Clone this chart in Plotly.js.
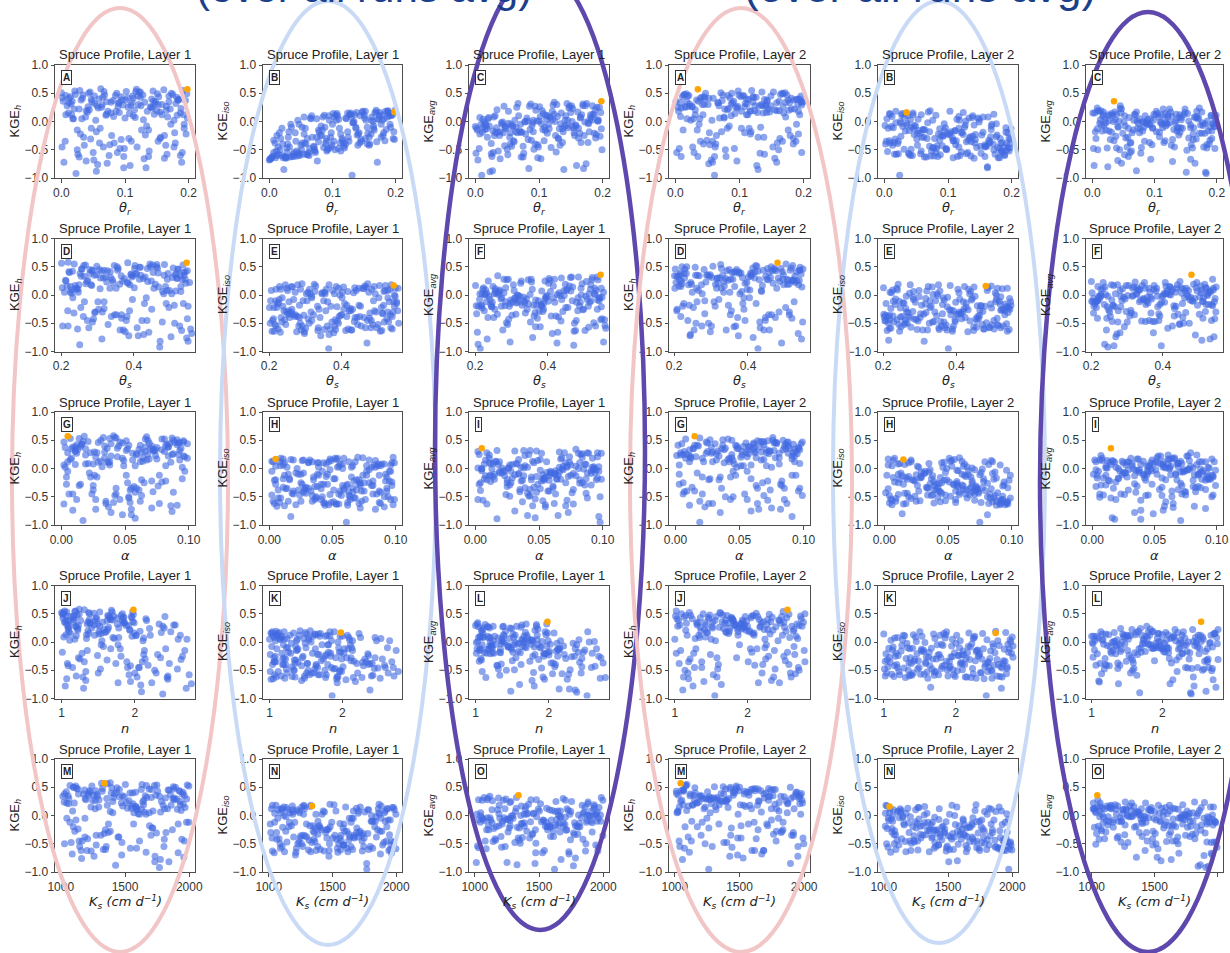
<!DOCTYPE html>
<html><head><meta charset="utf-8">
<script src="https://cdn.plot.ly/plotly-3.0.1.min.js"></script>
<style>html,body{margin:0;padding:0;background:#fff;}#chart{width:1230px;height:953px;}</style>
</head><body><div id="chart"></div>
<script>
// ---------- Layer 1 experiment ----------
const thr1 = [
0.002,0.011,0.006,0.000,0.009,0.004,0.012,0.001,0.007,0.010,
0.015,0.022,0.018,0.025,0.014,0.020,0.026,0.017,0.023,0.019,
0.029,0.036,0.031,0.039,0.027,0.034,0.038,0.030,0.033,0.028,
0.042,0.048,0.045,0.051,0.041,0.047,0.052,0.044,0.050,0.046,
0.055,0.062,0.058,0.065,0.054,0.060,0.064,0.057,0.061,0.056,
0.068,0.075,0.071,0.078,0.067,0.073,0.079,0.070,0.076,0.072,
0.082,0.089,0.085,0.092,0.081,0.087,0.091,0.084,0.090,0.086,
0.095,0.102,0.098,0.105,0.094,0.100,0.104,0.097,0.103,0.099,
0.108,0.115,0.111,0.118,0.107,0.113,0.119,0.110,0.116,0.112,
0.122,0.129,0.125,0.132,0.121,0.127,0.131,0.124,0.130,0.126,
0.135,0.142,0.138,0.145,0.134,0.140,0.144,0.137,0.143,0.139,
0.148,0.155,0.151,0.158,0.147,0.153,0.159,0.150,0.156,0.152,
0.162,0.169,0.165,0.172,0.161,0.167,0.171,0.164,0.170,0.166,
0.175,0.182,0.178,0.185,0.174,0.180,0.184,0.177,0.183,0.179,
0.188,0.195,0.191,0.199,0.187,0.193,0.197,0.190,0.196,0.192,
0.003,0.021,0.035,0.012,0.028,0.007,0.039,0.016,0.025,0.032,
0.043,0.066,0.052,0.078,0.059,0.047,0.071,0.055,0.063,0.075,
0.083,0.109,0.094,0.117,0.088,0.101,0.113,0.091,0.106,0.098,
0.124,0.146,0.133,0.158,0.128,0.141,0.152,0.137,0.155,0.121,
0.165,0.187,0.173,0.198,0.169,0.181,0.193,0.177,0.189,0.162];
const ths1 = [
0.231,0.487,0.352,0.298,0.541,0.412,0.263,0.379,0.455,0.214,
0.336,0.508,0.247,0.429,0.318,0.553,0.276,0.392,0.471,0.225,
0.444,0.289,0.517,0.361,0.208,0.402,0.498,0.254,0.335,0.531,
0.273,0.419,0.346,0.559,0.238,0.467,0.305,0.384,0.526,0.292,
0.511,0.219,0.438,0.327,0.482,0.261,0.374,0.545,0.301,0.415,
0.357,0.476,0.203,0.398,0.535,0.282,0.449,0.243,0.366,0.502,
0.228,0.341,0.521,0.286,0.407,0.462,0.216,0.553,0.323,0.389,
0.494,0.267,0.371,0.448,0.235,0.529,0.311,0.426,0.206,0.478,
0.312,0.543,0.255,0.383,0.468,0.221,0.436,0.347,0.515,0.279,
0.403,0.229,0.492,0.318,0.257,0.557,0.365,0.284,0.441,0.536,
0.249,0.453,0.329,0.513,0.396,0.212,0.484,0.362,0.271,0.425,
0.538,0.294,0.418,0.241,0.506,0.355,0.233,0.459,0.388,0.316,
0.376,0.522,0.268,0.434,0.201,0.491,0.343,0.547,0.296,0.409,
0.465,0.307,0.549,0.223,0.358,0.431,0.279,0.504,0.252,0.381,
0.325,0.392,0.236,0.473,0.529,0.264,0.415,0.219,0.496,0.351,
0.297,0.463,0.218,0.541,0.382,0.256,0.427,0.334,0.512,0.209,
0.445,0.272,0.394,0.226,0.537,0.318,0.483,0.251,0.369,0.556,
0.338,0.519,0.287,0.451,0.204,0.406,0.246,0.528,0.313,0.472,
0.262,0.401,0.549,0.308,0.437,0.213,0.366,0.489,0.284,0.518,
0.533,0.245,0.354,0.479,0.291,0.547,0.232,0.422,0.386,0.303];
const alpha1 = [
0.012,0.067,0.043,0.091,0.028,0.055,0.079,0.006,0.036,0.098,
0.073,0.021,0.058,0.004,0.085,0.039,0.062,0.094,0.017,0.049,
0.033,0.088,0.011,0.064,0.047,0.096,0.025,0.071,0.053,0.002,
0.059,0.008,0.081,0.037,0.069,0.015,0.092,0.044,0.027,0.076,
0.095,0.041,0.019,0.083,0.003,0.061,0.034,0.087,0.051,0.023,
0.046,0.077,0.064,0.013,0.038,0.099,0.052,0.029,0.072,0.009,
0.021,0.056,0.089,0.042,0.075,0.031,0.007,0.065,0.093,0.048,
0.084,0.014,0.035,0.068,0.057,0.002,0.091,0.026,0.045,0.063,
0.039,0.097,0.074,0.018,0.049,0.082,0.024,0.055,0.011,0.069,
0.066,0.032,0.005,0.079,0.093,0.047,0.061,0.016,0.086,0.028,
0.008,0.071,0.053,0.036,0.022,0.088,0.043,0.077,0.059,0.097,
0.052,0.025,0.096,0.062,0.011,0.039,0.073,0.034,0.004,0.081,
0.091,0.048,0.027,0.005,0.067,0.019,0.084,0.058,0.041,0.035,
0.017,0.086,0.063,0.045,0.031,0.072,0.009,0.095,0.066,0.054,
0.074,0.003,0.042,0.098,0.056,0.026,0.051,0.012,0.082,0.038,
0.044,0.087,0.015,0.062,0.096,0.029,0.071,0.005,0.053,0.082,
0.068,0.009,0.051,0.093,0.034,0.077,0.019,0.058,0.087,0.041,
0.025,0.063,0.099,0.007,0.046,0.084,0.037,0.072,0.014,0.055,
0.079,0.031,0.048,0.066,0.002,0.092,0.059,0.023,0.075,0.011,
0.012,0.054,0.088,0.038,0.070,0.016,0.097,0.043,0.027,0.065];
const n1 = [
1.02,1.12,1.31,1.44,1.52,1.77,1.84,2.05,2.21,2.52,
1.07,1.21,1.18,1.35,1.66,1.63,1.92,1.97,2.38,2.71,
1.04,1.09,1.26,1.51,1.48,1.81,1.78,2.12,2.15,2.44,
1.09,1.16,1.37,1.33,1.59,1.69,1.95,1.93,2.29,2.63,
1.01,1.24,1.22,1.47,1.55,1.74,1.88,2.08,2.42,2.38,
1.06,1.14,1.34,1.39,1.69,1.61,1.81,2.01,2.18,2.77,
1.03,1.19,1.16,1.53,1.46,1.83,1.99,2.14,2.33,2.49,
1.08,1.07,1.29,1.41,1.62,1.72,1.76,1.91,2.25,2.58,
1.05,1.22,1.39,1.31,1.51,1.66,1.90,2.10,2.12,2.41,
1.00,1.11,1.20,1.49,1.64,1.79,1.86,1.96,2.45,2.68,
1.10,1.17,1.33,1.36,1.57,1.64,1.97,2.03,2.20,2.36,
1.04,1.25,1.24,1.45,1.49,1.85,1.80,2.07,2.35,2.55,
1.07,1.13,1.36,1.54,1.68,1.70,1.93,1.94,2.28,2.74,
1.02,1.20,1.28,1.38,1.60,1.76,1.83,2.11,2.16,2.47,
1.09,1.10,1.19,1.42,1.54,1.67,1.98,2.00,2.31,2.62,
1.05,1.18,1.23,1.48,1.58,1.71,1.94,2.02,2.27,2.59,
1.01,1.15,1.35,1.37,1.67,1.80,1.85,2.09,2.40,2.45,
1.08,1.23,1.17,1.52,1.50,1.62,1.96,1.99,2.14,2.70,
1.03,1.06,1.30,1.44,1.63,1.78,1.89,2.13,2.36,2.53,
1.10,1.20,1.38,1.34,1.56,1.84,1.77,2.06,2.23,2.65];
const ks1 = [
1043,1587,1312,1876,1195,1734,1458,1962,1268,1621,
1815,1124,1689,1371,1923,1046,1542,1257,1768,1405,
1503,1942,1178,1645,1329,1881,1092,1716,1434,1237,
1269,1658,1997,1089,1482,1217,1836,1563,1354,1745,
1691,1385,1026,1754,1613,1446,1903,1162,1997,1298,
1134,1862,1549,1285,1072,1797,1347,1628,1209,1958,
1937,1247,1705,1476,1853,1103,1584,1012,1669,1362,
1418,1729,1158,1929,1338,1651,1228,1873,1527,1081,
1776,1061,1494,1317,1968,1582,1143,1702,1385,1844,
1242,1603,1887,1135,1456,1021,1769,1322,1914,1567,
1859,1393,1276,1740,1118,1531,1985,1204,1638,1469,
1057,1819,1437,1596,1882,1273,1672,1931,1109,1358,
1664,1185,1953,1047,1363,1718,1472,1806,1251,1590,
1325,1907,1097,1559,1784,1411,1029,1663,1947,1188,
1512,1281,1632,1865,1235,1979,1397,1147,1711,1808,
1213,1748,1386,1952,1105,1627,1474,1831,1029,1569,
1893,1166,1705,1296,1538,1071,1962,1427,1784,1348,
1452,1980,1224,1667,1803,1138,1591,1016,1370,1732,
1117,1519,1842,1063,1688,1405,1275,1914,1556,1190,
1646,1331,1097,1777,1480,1926,1188,1613,1259,1869];
const kgeH1 = [
0.42,0.15,-0.35,0.51,0.28,-0.72,0.33,-0.45,0.12,-1.25,
0.31,0.48,0.05,-0.15,0.44,0.22,-0.58,0.36,-0.92,0.05,
0.55,-0.42,0.38,0.19,-1.10,0.47,0.08,-0.22,0.41,-0.63,
0.26,0.35,0.52,-0.68,0.17,0.39,0.45,0.21,-0.55,-0.31,
-0.18,0.58,0.24,0.43,0.02,-0.38,0.29,-0.76,-0.12,0.28,
0.47,-1.30,0.13,0.34,0.53,0.18,-0.25,0.11,-0.41,-0.74,
0.09,0.27,0.46,-0.48,0.37,0.50,0.16,-1.50,0.32,0.18,
0.38,0.53,-0.62,0.25,-0.32,0.06,0.42,0.29,-1.40,-0.48,
-0.78,0.21,0.33,0.57,0.14,0.41,-0.45,-0.35,0.07,0.45,
0.52,0.03,0.28,-0.24,0.46,-1.20,0.34,0.43,-0.66,-0.15,
0.18,0.40,-0.52,0.36,-0.08,0.26,0.54,-0.62,0.24,-1.45,
0.35,-0.30,0.49,0.12,0.31,0.44,-1.15,0.19,-0.28,0.30,
-0.65,0.45,0.20,-0.05,0.56,0.08,0.22,-0.42,-1.30,-0.58,
0.48,0.11,-0.20,0.40,-1.60,0.32,0.38,0.02,0.38,-0.38,
0.23,0.37,0.55,-1.20,0.15,-0.12,0.49,-0.55,-0.22,0.12,
0.36,0.54,-0.28,0.41,0.22,0.46,-0.70,0.12,-0.50,0.05,
0.50,-0.45,0.32,0.15,0.40,-0.12,0.35,-0.88,0.25,-0.60,
-0.38,0.29,0.44,0.53,-0.55,0.38,0.10,0.34,-0.30,-0.82,
0.52,0.13,-0.82,0.30,0.47,0.25,-0.35,-0.15,0.17,0.30,
0.27,-0.60,0.50,0.06,0.35,0.43,-0.05,-0.45,-0.72,-0.25];
const kgeIso1 = [
-0.66,-0.52,-0.61,-0.68,-0.38,-0.63,-0.25,-0.67,-0.55,-0.64,
-0.58,-0.64,-0.30,-0.62,-0.45,-0.12,-0.65,-0.50,-0.85,-0.60,
-0.40,-0.62,-0.18,-0.55,-0.64,-0.05,-0.58,-0.28,-0.63,-0.47,
-0.35,-0.60,0.02,-0.50,-0.20,-0.58,-0.10,-0.61,-0.42,-0.55,
-0.22,-0.55,-0.40,0.06,-0.58,-0.30,-0.48,-0.12,-0.59,-0.38,
-0.28,0.05,-0.50,-0.36,0.10,-0.55,-0.18,-0.44,-0.70,-0.52,
-0.08,-0.40,0.08,-0.50,-0.25,0.11,-0.52,-0.15,-0.35,-0.46,
0.02,-0.35,-0.20,0.12,-0.48,-0.05,-0.50,-0.28,0.08,-0.41,
0.10,-0.30,-0.12,-0.44,0.14,-0.22,-0.47,0.04,-0.33,-0.38,
0.05,0.15,-0.28,-0.02,-0.40,0.12,-0.95,-0.18,0.08,-0.35,
0.12,-0.20,0.16,-0.32,0.00,-0.42,0.10,-0.12,-0.38,-0.24,
0.18,-0.10,0.06,-0.28,0.17,0.02,-0.40,0.12,-0.21,-0.30,
0.08,0.17,-0.08,0.04,-0.22,0.15,-0.72,0.00,-0.36,-0.15,
0.16,0.05,0.12,-0.14,0.10,-0.25,0.18,-0.05,-0.34,0.02,
0.19,0.12,-0.05,0.20,0.08,0.14,-0.18,0.10,-0.30,-0.10,
-0.65,-0.40,-0.10,-0.60,-0.55,-0.33,-0.62,-0.20,-0.63,-0.45,
-0.52,0.05,-0.38,-0.15,-0.58,-0.05,-0.45,0.08,-0.60,-0.28,
-0.25,-0.48,0.10,-0.38,-0.10,0.14,-0.52,-0.30,0.02,-0.45,
0.15,-0.35,-0.02,-0.42,0.13,-0.22,0.18,-0.10,-0.40,0.06,
-0.12,0.18,0.05,-0.32,0.20,-0.20,0.10,-0.28,0.15,0.02];
const kgeAvg1 = [
-0.12,-0.19,-0.48,-0.09,-0.05,-0.68,0.04,-0.56,-0.22,-0.95,
-0.14,-0.08,-0.13,-0.39,-0.01,0.05,-0.62,-0.07,-0.89,-0.28,
0.08,-0.52,0.10,-0.18,-0.87,0.21,-0.25,-0.25,-0.11,-0.55,
-0.05,-0.13,0.27,-0.59,-0.02,-0.10,0.18,-0.20,-0.49,-0.43,
-0.20,0.02,-0.08,0.25,-0.28,-0.34,-0.10,-0.44,-0.36,-0.05,
0.10,-0.63,-0.19,-0.01,0.32,-0.19,-0.22,-0.17,-0.56,-0.63,
0.01,-0.07,0.27,-0.49,0.06,0.31,-0.18,-0.83,-0.02,-0.14,
0.20,0.09,-0.41,0.19,-0.40,0.01,-0.04,0.01,-0.66,-0.45,
-0.34,-0.05,0.11,0.07,0.14,0.10,-0.46,-0.16,-0.13,0.04,
0.29,0.09,0.00,-0.13,0.03,-0.54,-0.31,0.13,-0.29,-0.25,
0.15,0.10,-0.18,0.02,-0.04,-0.08,0.32,-0.37,-0.07,-0.85,
0.27,-0.20,0.28,-0.08,0.24,0.23,-0.78,0.16,-0.25,0.00,
-0.29,0.31,0.06,-0.01,0.17,0.12,-0.25,-0.21,-0.83,-0.37,
0.32,0.08,-0.04,0.13,-0.75,0.04,0.28,-0.02,0.02,-0.18,
0.21,0.25,0.25,-0.50,0.12,0.01,0.16,-0.23,-0.26,0.01,
-0.15,0.07,-0.19,-0.10,-0.17,0.07,-0.66,-0.04,-0.57,-0.20,
-0.01,-0.20,-0.03,0.00,-0.09,-0.09,-0.05,-0.40,-0.18,-0.44,
-0.32,-0.10,0.27,0.08,-0.33,0.26,-0.21,0.02,-0.14,-0.64,
0.34,-0.11,-0.42,-0.06,0.30,0.02,-0.09,-0.13,-0.12,0.18,
0.08,-0.21,0.28,-0.13,0.28,0.12,0.03,-0.37,-0.29,-0.12];
// best run, layer 1: [theta_r, theta_s, alpha, n, Ks] and [KGE_h, KGE_iso, KGE_avg]
const bestParams1 = [0.198, 0.545, 0.005, 1.98, 1340];
const bestKge1 = [0.57, 0.17, 0.36];

// ---------- Layer 2 experiment ----------
const thr2 = [
0.143,0.027,0.186,0.071,0.112,0.004,0.158,0.093,0.049,0.197,
0.061,0.174,0.018,0.129,0.085,0.192,0.036,0.151,0.107,0.012,
0.119,0.043,0.165,0.008,0.097,0.139,0.054,0.181,0.076,0.132,
0.031,0.188,0.102,0.057,0.169,0.021,0.124,0.079,0.196,0.046,
0.176,0.066,0.139,0.014,0.091,0.155,0.038,0.114,0.003,0.162,
0.082,0.127,0.051,0.184,0.009,0.103,0.171,0.064,0.136,0.025,
0.194,0.015,0.088,0.147,0.059,0.178,0.029,0.121,0.072,0.109,
0.041,0.153,0.117,0.033,0.189,0.068,0.142,0.006,0.098,0.167,
0.131,0.081,0.199,0.052,0.124,0.019,0.163,0.087,0.035,0.145,
0.011,0.172,0.062,0.108,0.045,0.137,0.191,0.024,0.158,0.094,
0.159,0.039,0.128,0.182,0.074,0.001,0.115,0.056,0.185,0.069,
0.089,0.197,0.022,0.149,0.113,0.058,0.077,0.168,0.044,0.121,
0.028,0.134,0.096,0.005,0.176,0.083,0.047,0.141,0.111,0.192,
0.166,0.053,0.181,0.092,0.016,0.126,0.198,0.037,0.071,0.105,
0.078,0.117,0.008,0.162,0.138,0.042,0.099,0.183,0.026,0.152,
0.052,0.184,0.117,0.009,0.141,0.073,0.196,0.034,0.158,0.087,
0.129,0.018,0.164,0.097,0.045,0.177,0.063,0.111,0.002,0.149,
0.191,0.076,0.039,0.135,0.103,0.022,0.168,0.058,0.122,0.084,
0.013,0.155,0.094,0.189,0.067,0.118,0.031,0.143,0.179,0.047,
0.108,0.041,0.172,0.061,0.194,0.026,0.133,0.081,0.017,0.161];
const ths2 = [
0.412,0.237,0.528,0.305,0.461,0.219,0.374,0.546,0.283,0.339,
0.254,0.489,0.351,0.207,0.427,0.537,0.298,0.396,0.472,0.226,
0.503,0.328,0.269,0.448,0.214,0.381,0.519,0.245,0.436,0.362,
0.319,0.456,0.541,0.276,0.364,0.203,0.495,0.341,0.258,0.419,
0.386,0.211,0.433,0.517,0.291,0.468,0.249,0.407,0.532,0.312,
0.229,0.545,0.317,0.372,0.486,0.262,0.424,0.208,0.353,0.509,
0.478,0.346,0.221,0.439,0.531,0.295,0.367,0.514,0.241,0.401,
0.272,0.421,0.502,0.233,0.389,0.451,0.213,0.548,0.326,0.464,
0.359,0.525,0.288,0.414,0.247,0.369,0.484,0.302,0.443,0.205,
0.441,0.266,0.392,0.539,0.323,0.218,0.457,0.378,0.511,0.281,
0.218,0.493,0.336,0.264,0.471,0.409,0.308,0.536,0.227,0.383,
0.527,0.301,0.455,0.349,0.202,0.512,0.397,0.257,0.474,0.331,
0.334,0.418,0.244,0.497,0.376,0.286,0.543,0.431,0.315,0.252,
0.463,0.223,0.366,0.432,0.521,0.343,0.268,0.404,0.238,0.549,
0.293,0.507,0.405,0.215,0.355,0.482,0.328,0.247,0.521,0.447,
0.375,0.512,0.239,0.458,0.316,0.544,0.281,0.422,0.207,0.398,
0.491,0.263,0.413,0.335,0.539,0.221,0.447,0.362,0.275,0.506,
0.228,0.437,0.352,0.521,0.274,0.385,0.509,0.243,0.466,0.321,
0.453,0.298,0.533,0.217,0.408,0.347,0.261,0.496,0.389,0.234,
0.311,0.476,0.201,0.427,0.357,0.523,0.283,0.392,0.541,0.259];
const alpha2 = [
0.058,0.021,0.093,0.037,0.074,0.006,0.082,0.045,0.013,0.067,
0.029,0.088,0.051,0.003,0.069,0.042,0.096,0.018,0.061,0.035,
0.076,0.011,0.039,0.084,0.024,0.057,0.007,0.091,0.046,0.072,
0.016,0.064,0.098,0.048,0.032,0.079,0.055,0.026,0.086,0.002,
0.043,0.097,0.019,0.066,0.089,0.012,0.071,0.053,0.034,0.081,
0.087,0.035,0.062,0.009,0.052,0.094,0.027,0.068,0.004,0.049,
0.022,0.073,0.044,0.091,0.015,0.038,0.085,0.005,0.059,0.077,
0.065,0.008,0.083,0.028,0.056,0.071,0.041,0.099,0.019,0.036,
0.092,0.047,0.014,0.059,0.078,0.025,0.063,0.033,0.087,0.011,
0.031,0.081,0.054,0.095,0.007,0.067,0.018,0.075,0.044,0.058,
0.074,0.017,0.069,0.039,0.099,0.048,0.091,0.023,0.062,0.003,
0.011,0.056,0.028,0.077,0.042,0.085,0.034,0.064,0.096,0.049,
0.053,0.094,0.075,0.021,0.066,0.001,0.057,0.088,0.029,0.072,
0.084,0.026,0.037,0.069,0.009,0.061,0.093,0.045,0.016,0.078,
0.039,0.063,0.097,0.014,0.082,0.052,0.024,0.071,0.057,0.006,
0.047,0.083,0.012,0.064,0.029,0.096,0.055,0.021,0.071,0.038,
0.091,0.036,0.068,0.004,0.079,0.051,0.015,0.088,0.043,0.062,
0.025,0.059,0.097,0.041,0.008,0.073,0.032,0.065,0.086,0.017,
0.069,0.011,0.044,0.085,0.057,0.027,0.093,0.039,0.006,0.076,
0.034,0.092,0.061,0.019,0.048,0.081,0.003,0.056,0.072,0.045];
const n2 = [
1.05,1.27,1.41,1.63,1.84,1.95,2.15,2.31,2.52,2.71,
1.12,1.22,1.50,1.58,1.77,2.02,2.22,2.40,2.47,2.78,
1.02,1.33,1.38,1.69,1.88,1.93,2.10,2.28,2.58,2.66,
1.15,1.19,1.46,1.56,1.74,2.06,2.18,2.36,2.50,2.74,
1.08,1.30,1.53,1.66,1.81,1.98,2.24,2.43,2.45,2.63,
1.01,1.25,1.43,1.60,1.86,2.04,2.12,2.29,2.61,2.76,
1.17,1.35,1.39,1.71,1.79,1.91,2.20,2.34,2.55,2.68,
1.10,1.20,1.49,1.55,1.89,2.00,2.09,2.38,2.49,2.79,
1.04,1.29,1.52,1.64,1.75,1.97,2.25,2.27,2.60,2.64,
1.13,1.34,1.37,1.61,1.83,2.07,2.16,2.42,2.53,2.72,
1.06,1.24,1.45,1.68,1.72,1.94,2.13,2.33,2.44,2.69,
1.16,1.18,1.51,1.57,1.87,2.01,2.23,2.30,2.57,2.77,
1.00,1.31,1.40,1.70,1.80,1.92,2.11,2.39,2.48,2.65,
1.09,1.26,1.47,1.59,1.76,2.05,2.19,2.26,2.62,2.73,
1.14,1.36,1.42,1.65,1.85,1.96,2.08,2.41,2.51,2.70,
1.03,1.21,1.44,1.58,1.82,1.99,2.14,2.37,2.46,2.67,
1.11,1.32,1.48,1.67,1.78,2.03,2.21,2.28,2.59,2.75,
1.07,1.28,1.37,1.62,1.87,1.91,2.17,2.44,2.54,2.64,
1.15,1.19,1.52,1.70,1.73,2.06,2.09,2.32,2.50,2.79,
1.02,1.35,1.41,1.55,1.80,1.95,2.24,2.35,2.57,2.71];
const ks2 = [
1537,1128,1874,1306,1692,1045,1951,1412,1763,1239,
1685,1392,1017,1828,1253,1579,1146,1927,1468,1711,
1094,1746,1521,1267,1983,1358,1629,1172,1805,1442,
1872,1203,1664,1489,1035,1777,1318,1596,1117,1945,
1341,1918,1075,1725,1452,1284,1869,1013,1633,1506,
1761,1059,1418,1991,1187,1613,1374,1836,1266,1552,
1226,1647,1893,1106,1574,1962,1039,1495,1718,1327,
1958,1475,1263,1689,1801,1151,1548,1379,1082,1903,
1405,1837,1193,1528,1064,1742,1916,1285,1617,1167,
1619,1022,1783,1354,1898,1236,1461,1973,1139,1694,
1103,1557,1315,1847,1427,1969,1211,1672,1378,1025,
1846,1289,1724,1068,1593,1432,1987,1155,1512,1759,
1273,1961,1485,1639,1121,1806,1356,1054,1922,1437,
1501,1174,1936,1402,1651,1069,1735,1248,1865,1589,
1997,1343,1092,1573,1785,1214,1644,1908,1396,1033,
1452,1821,1136,1688,1274,1937,1063,1569,1725,1318,
1894,1207,1621,1398,1049,1773,1486,1159,1952,1336,
1245,1669,1917,1085,1531,1302,1858,1425,1012,1747,
1603,1113,1368,1979,1197,1512,1786,1027,1643,1429,
1079,1542,1819,1262,1705,1388,1131,1966,1474,1234];
const kgeH2 = [
0.38,-0.45,0.22,0.51,0.31,0.25,-0.72,0.14,-0.33,0.29,
-0.62,0.47,0.05,-0.28,0.42,0.18,0.36,-1.35,0.45,-0.15,
0.55,0.12,-1.10,0.33,0.27,0.39,-0.41,0.22,0.08,-0.56,
0.21,-0.35,0.44,0.02,0.15,0.46,0.28,-0.62,0.35,0.41,
-0.15,0.33,-0.58,0.48,0.36,0.21,0.05,0.39,-1.20,0.19,
0.46,-0.78,0.30,-0.40,0.24,-0.12,0.51,-0.25,0.28,-1.60,
0.12,0.26,0.50,0.17,0.41,0.33,-0.55,0.44,-0.18,0.32,
-1.40,0.52,-0.22,0.38,-0.05,0.28,0.16,-0.48,0.54,-0.35,
0.28,-0.12,0.35,-0.75,0.19,0.45,-0.30,0.31,-0.62,0.22,
0.44,0.08,-0.45,0.26,0.30,0.15,0.40,0.02,0.19,-1.30,
-0.38,0.41,0.16,-1.50,0.47,0.36,-0.12,-0.68,0.38,0.06,
0.33,-0.55,0.27,0.45,0.12,-0.35,0.22,0.49,-0.40,0.35,
0.05,0.30,-0.70,0.18,0.38,0.23,-1.25,0.27,0.12,-0.22,
0.50,-0.20,0.41,-0.48,0.25,0.43,0.34,-0.05,-1.30,0.46,
-0.50,0.19,0.09,0.36,-0.28,0.30,0.47,-1.45,0.26,-0.45,
0.41,-0.30,0.18,-0.62,0.29,0.37,0.45,-0.15,0.33,0.10,
-0.85,0.35,0.48,0.24,0.44,0.20,-0.40,0.40,-0.55,0.28,
0.30,0.06,-0.35,0.52,0.18,0.31,0.26,-0.72,0.43,-0.08,
0.47,-0.65,0.25,0.39,0.33,-0.18,0.12,0.36,-0.25,0.50,
-0.20,0.43,0.34,-0.95,0.40,0.27,-0.10,0.21,0.49,-0.50];
const kgeIso2 = [
-0.32,0.12,-0.55,-0.18,-0.41,0.05,-0.62,-0.25,-0.08,-0.47,
-0.14,-0.58,0.18,-0.36,-0.22,-0.51,-0.03,-0.44,-0.29,0.09,
-0.60,-0.10,-0.38,0.14,-0.49,-0.26,-0.16,-0.64,0.02,-0.33,
0.07,-0.45,-0.21,-0.57,-0.05,-0.39,0.16,-0.30,-0.52,-0.12,
-0.27,-0.63,0.10,-0.11,-0.43,-0.19,-0.56,0.04,-0.35,-0.82,
-0.48,-0.06,-0.31,-0.53,0.13,-0.24,-0.40,-0.15,-0.61,0.00,
-0.20,-0.37,-0.59,0.06,-0.28,-0.46,-0.09,-0.54,0.19,-0.34,
0.03,-0.24,-0.45,-0.17,-0.60,-0.02,-0.38,-0.12,-0.50,-0.27,
-0.55,0.11,-0.13,-0.42,-0.23,-0.58,0.08,-0.33,-0.06,-0.46,
-0.09,-0.50,-0.28,-0.64,0.15,-0.36,-0.19,-0.95,-0.41,-0.04,
-0.44,-0.16,0.01,-0.30,-0.52,-0.07,-0.62,-0.21,-0.37,0.17,
-0.25,-0.40,-0.57,-0.01,-0.34,0.12,-0.47,-0.14,-0.60,-0.20,
0.14,-0.29,-0.11,-0.53,-0.04,-0.43,-0.23,-0.65,-0.16,-0.38,
-0.36,0.04,-0.48,-0.26,-0.58,-0.10,-0.31,0.10,-0.44,-0.18,
-0.61,-0.12,-0.34,-0.80,0.07,-0.49,-0.22,-0.39,-0.03,-0.56,
-0.21,-0.52,0.09,-0.38,-0.06,-0.61,-0.29,0.15,-0.45,-0.13,
-0.57,-0.02,-0.33,-0.48,0.12,-0.24,-0.63,-0.17,-0.40,0.04,
-0.11,-0.46,-0.58,-0.27,0.18,-0.35,-0.08,-0.52,-0.19,-0.62,
-0.42,0.08,-0.16,-0.59,-0.30,0.02,-0.49,-0.23,-0.64,-0.07,
-0.34,-0.60,0.13,-0.14,-0.47,-0.26,0.06,-0.55,-0.31,-0.44];
const kgeAvg2 = [
0.03,-0.17,-0.17,0.17,-0.05,0.15,-0.67,-0.06,-0.21,-0.09,
-0.38,-0.06,0.12,-0.32,0.10,-0.17,0.17,-0.90,0.08,-0.03,
-0.03,0.01,-0.74,0.24,-0.11,0.07,-0.29,-0.21,0.05,-0.45,
0.14,-0.40,0.12,-0.28,0.05,0.04,0.22,-0.46,-0.09,0.15,
-0.21,-0.15,-0.24,0.19,-0.04,0.01,-0.26,0.22,-0.78,-0.32,
-0.01,-0.42,-0.01,-0.47,0.19,-0.18,0.06,-0.20,-0.17,-0.80,
-0.04,-0.06,-0.05,0.12,0.07,-0.07,-0.32,-0.05,0.01,-0.01,
-0.69,0.14,-0.34,0.11,-0.33,0.13,-0.11,-0.30,0.02,-0.31,
-0.14,-0.01,0.11,-0.59,-0.02,-0.07,-0.11,-0.01,-0.34,-0.12,
0.18,-0.21,-0.37,-0.19,0.23,-0.11,0.11,-0.47,-0.11,-0.67,
-0.41,0.13,0.09,-0.90,-0.03,0.15,-0.37,-0.45,0.01,0.12,
0.04,-0.48,-0.15,0.22,-0.11,-0.12,-0.13,0.18,-0.50,0.08,
0.10,0.01,-0.41,-0.18,0.17,-0.10,-0.74,-0.19,-0.02,-0.30,
0.07,-0.08,-0.04,-0.37,-0.17,0.17,0.02,0.03,-0.87,0.14,
-0.56,0.04,-0.13,-0.22,-0.11,-0.10,0.13,-0.92,0.12,-0.51,
0.10,-0.41,0.14,-0.50,0.12,-0.12,0.08,0.00,-0.06,-0.02,
-0.71,0.17,0.08,-0.12,0.28,-0.02,-0.52,0.12,-0.48,0.16,
0.10,-0.20,-0.47,0.13,0.18,-0.02,0.09,-0.62,0.12,-0.35,
0.03,-0.29,0.05,-0.10,0.02,-0.08,-0.19,0.07,-0.45,0.22,
-0.27,-0.09,0.24,-0.55,-0.04,0.01,-0.02,-0.17,0.09,-0.47];
const bestParams2 = [0.035, 0.48, 0.015, 2.55, 1045];
const bestKge2 = [0.57, 0.16, 0.36];

// ---------- labels ----------
const panelLetters = ['A','B','C','D','E','F','G','H','I','J','K','L','M','N','O'];
const layerNames = ['Spruce Profile, Layer 1', 'Spruce Profile, Layer 2'];
const xTitles = ['<i>θ<sub>r</sub></i>', '<i>θ<sub>s</sub></i>', '<i>α</i>', '<i>n</i>', '<i>K<sub>s</sub> (cm d<sup>−1</sup>)</i>'];
const yTitles = ['KGE<sub><i>h</i></sub>', 'KGE<sub><i>iso</i></sub>', 'KGE<sub><i>avg</i></sub>'];
const xTickVals = [[0, 0.1, 0.2], [0.2, 0.4], [0, 0.05, 0.1], [1, 2], [1000, 1500, 2000]];
const xTickText = [['0.0','0.1','0.2'], ['0.2','0.4'], ['0.00','0.05','0.10'], ['1','2'], ['1000','1500','2000']];
const yTickVals = [-1, -0.5, 0, 0.5, 1];
const yTickText = ['−1.0','−0.5','0.0','0.5','1.0'];
const topTexts = ['(over all runs avg)', '(over all runs avg)'];

// ---------- layout geometry (pixels) ----------
const W = 1230, H = 953;
const colLeft = [55, 263, 469, 669, 878, 1086];
const colRight = [195, 402, 609, 810, 1018, 1223];
const rowTop = [65, 238.5, 412, 585.5, 759];
const panelH = 113;
const xRanges = [
  [[-0.01, 0.21], [0.183, 0.568], [-0.005, 0.105], [0.91, 2.82], [955, 2045]],
  [[-0.01, 0.21], [0.186, 0.568], [-0.005, 0.105], [0.92, 2.86], [955, 2045]]
];
const px = x => x / W, py = y => 1 - y / H;

const params = [[thr1, ths1, alpha1, n1, ks1], [thr2, ths2, alpha2, n2, ks2]];
const kges = [[kgeH1, kgeIso1, kgeAvg1], [kgeH2, kgeIso2, kgeAvg2]];
const bestP = [bestParams1, bestParams2];
const bestK = [bestKge1, bestKge2];

const FONT = 'Liberation Sans, Arial, sans-serif';
const MATHFONT = 'DejaVu Sans, sans-serif';
const traces = [];
const annotations = [];
const layout = {
  width: W, height: H, margin: {l: 0, r: 0, t: 0, b: 0},
  paper_bgcolor: '#ffffff', plot_bgcolor: '#ffffff', showlegend: false,
  hovermode: false, font: {family: FONT, color: '#262626'}
};

let k = 0;
for (let L = 0; L < 2; L++) {
  for (let m = 0; m < 3; m++) {
    const col = L * 3 + m;
    for (let r = 0; r < 5; r++) {
      k++;
      const sfx = k === 1 ? '' : String(k);
      const xa = 'x' + sfx, ya = 'y' + sfx;
      traces.push({type: 'scatter', mode: 'markers', x: params[L][r], y: kges[L][m],
        xaxis: xa, yaxis: ya, hoverinfo: 'skip',
        marker: {color: 'rgba(65,105,225,0.6)', size: 7, line: {width: 0}}});
      traces.push({type: 'scatter', mode: 'markers', x: [bestP[L][r]], y: [bestK[L][m]],
        xaxis: xa, yaxis: ya, hoverinfo: 'skip',
        marker: {color: '#FFA500', size: 6.5, line: {width: 0}}});
      const top = rowTop[r], bot = rowTop[r] + panelH;
      const left = colLeft[col], right = colRight[col];
      const common = {showgrid: false, zeroline: false, showline: true, mirror: true,
        linecolor: '#4d4d4d', linewidth: 1, ticks: 'outside', ticklen: 3.5, tickwidth: 1,
        tickcolor: '#4d4d4d', tickfont: {family: FONT, size: 12, color: '#333333'}, fixedrange: true};
      layout['xaxis' + sfx] = Object.assign({}, common, {
        domain: [px(left), px(right)], anchor: ya, range: xRanges[L][r],
        tickmode: 'array', tickvals: xTickVals[r], ticktext: xTickText[r]});
      layout['yaxis' + sfx] = Object.assign({}, common, {
        domain: [py(bot), py(top)], anchor: xa, range: [-1, 1],
        tickmode: 'array', tickvals: yTickVals, ticktext: yTickText});
      const cx = (left + right) / 2;
      annotations.push({xref: 'paper', yref: 'paper', x: px(cx), y: py(top - 10),
        xanchor: 'center', yanchor: 'middle', showarrow: false, text: layerNames[L],
        font: {family: FONT, size: 13, color: '#222222'}});
      annotations.push({xref: 'paper', yref: 'paper', x: px(left + 6), y: py(top + 5),
        xanchor: 'left', yanchor: 'top', showarrow: false, text: '<b>' + panelLetters[r * 3 + m] + '</b>',
        font: {family: FONT, size: 10, color: '#222222'}, bordercolor: '#333333', borderwidth: 1,
        borderpad: 1, bgcolor: '#ffffff'});
      annotations.push({xref: 'paper', yref: 'paper', x: px(cx), y: py(bot + 30),
        xanchor: 'center', yanchor: 'middle', showarrow: false, text: xTitles[r],
        font: {family: MATHFONT, size: 13, color: '#222222'}});
      annotations.push({xref: 'paper', yref: 'paper', x: px(left - 40), y: py((top + bot) / 2),
        xanchor: 'center', yanchor: 'middle', showarrow: false, textangle: -90, text: yTitles[m],
        font: {family: FONT, size: 13, color: '#222222'}});
    }
  }
}

// top titles (cut off by the page edge)
annotations.push({xref: 'paper', yref: 'paper', x: px(364), y: py(13), xanchor: 'center', yanchor: 'bottom',
  showarrow: false, text: topTexts[0], font: {family: FONT, size: 42, color: '#1B3F8B'}});
annotations.push({xref: 'paper', yref: 'paper', x: px(920), y: py(13), xanchor: 'center', yanchor: 'bottom',
  showarrow: false, text: topTexts[1], font: {family: FONT, size: 44, color: '#1B3F8B'}});
layout.annotations = annotations;

// highlight ellipses (pixels: x0, x1, y0, y1, colour, width)
const ellipses = [
  [12, 228, 8, 952, '#F2C6C6', 4],
  [220, 436, 1, 945, '#C9DAF6', 4],
  [435, 645, -30, 930, '#5E48AD', 4.5],
  [630, 852, 8, 952, '#F2C6C6', 4],
  [833, 1045, 1, 943, '#C9DAF6', 4],
  [1040, 1256, 12, 952, '#5E48AD', 4.5]
];
layout.shapes = ellipses.map(e => ({type: 'circle', xref: 'paper', yref: 'paper', layer: 'above',
  x0: px(e[0]), x1: px(e[1]), y0: py(e[3]), y1: py(e[2]),
  line: {color: e[4], width: e[5]}, fillcolor: 'rgba(0,0,0,0)'}));

Plotly.newPlot('chart', traces, layout, {displayModeBar: false, staticPlot: true});
</script></body></html>
